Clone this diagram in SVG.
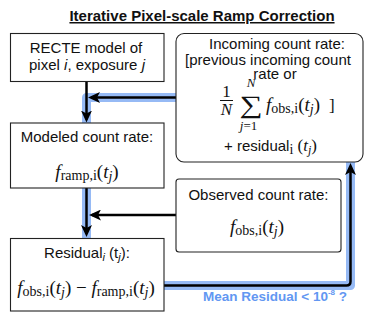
<svg xmlns="http://www.w3.org/2000/svg" width="374" height="316" viewBox="0 0 374 316">
<style>
.box{fill:#fff;stroke:#222;stroke-width:1.1}
.s{font-family:"Liberation Sans",Arial,sans-serif;font-size:15px;fill:#111}
.m{font-family:"Liberation Serif","Times New Roman",serif;font-size:19px;fill:#111}
.mi{font-style:italic}
.sub{font-size:14px}
.band{fill:none;stroke:#96baf5;stroke-width:9;stroke-linejoin:round}
.ln{fill:none;stroke:#000;stroke-width:2.5}
</style>
<defs>
<marker id="ah" markerUnits="userSpaceOnUse" markerWidth="12" markerHeight="11" refX="9" refY="5.5" orient="auto">
<path d="M0,0 L12,5.5 L0,11 L3,5.5 Z" fill="#000"/>
</marker>
</defs>
<rect width="374" height="316" fill="#fff"/>
<text x="202" y="21" text-anchor="middle" class="s" style="font-weight:bold;text-decoration:underline">Iterative Pixel-scale Ramp Correction</text>

<g id="connectors">
<path class="band" d="M176,97.5 H86.5 V123"/>
<path class="band" d="M86.5,188 V238"/>
<path class="band" d="M164,285.5 H350.5 V162"/>
<path class="ln" d="M86.5,81.5 V119.5" marker-end="url(#ah)"/>
<path class="ln" d="M176,97.5 H91" marker-end="url(#ah)"/>
<path class="ln" d="M86.5,188 V234" marker-end="url(#ah)"/>
<path class="ln" d="M176,215 H92" marker-end="url(#ah)"/>
<path class="ln" d="M164,285.5 H346.5 Q350.5,285.5 350.5,281.5 V166" marker-end="url(#ah)"/>
</g>

<g id="recte">
<rect class="box" x="10.5" y="33.5" width="153.5" height="48"/>
<text x="86" y="53" text-anchor="middle" class="s">RECTE model of</text>
<text x="87" y="69.5" text-anchor="middle" class="s">pixel <tspan font-style="italic">i</tspan>, exposure <tspan font-style="italic">j</tspan></text>
</g>

<g id="incoming">
<rect class="box" x="176" y="33.5" width="187" height="128.5" rx="8"/>
<text x="277" y="49" text-anchor="middle" class="s">Incoming count rate:</text>
<text x="268" y="64.5" text-anchor="middle" class="s">[previous incoming count</text>
<text x="275" y="79" text-anchor="middle" class="s">rate or</text>
<text x="226.5" y="97" text-anchor="middle" class="m" style="font-size:17px">1</text>
<line x1="220" y1="100.5" x2="233" y2="100.5" stroke="#111" stroke-width="1"/>
<text x="226.5" y="115" text-anchor="middle" class="m mi" style="font-size:17px">N</text>
<text x="251" y="87" text-anchor="middle" class="m mi" style="font-size:13px">N</text>
<text x="0" y="0" transform="translate(251,113) scale(1.3,1)" text-anchor="middle" class="m" style="font-size:25px">∑</text>
<text x="248.5" y="130" text-anchor="middle" class="m" style="font-size:13px"><tspan font-style="italic">j</tspan>=1</text>
<text x="266" y="111" class="m"><tspan class="mi">f</tspan><tspan class="sub" dy="2">obs,i</tspan><tspan dy="-2">(</tspan><tspan class="mi">t</tspan><tspan class="sub mi" dy="3">j</tspan><tspan dy="-3">)</tspan></text>
<text x="329" y="111" class="m" style="font-size:17px">]</text>
<text x="224" y="151" class="s">+ residual<tspan class="m sub" dy="3">i</tspan><tspan class="m" dy="-3" style="font-size:17px"> (<tspan class="mi">t</tspan><tspan class="mi" dy="3" style="font-size:12px">j</tspan><tspan dy="-3">)</tspan></tspan></text>
</g>

<g id="modeled">
<rect class="box" x="10.5" y="123" width="153.5" height="65"/>
<text x="87" y="142" text-anchor="middle" class="s">Modeled count rate:</text>
<text x="87" y="178" text-anchor="middle" class="m"><tspan class="mi">f</tspan><tspan class="sub" dy="2">ramp,i</tspan><tspan dy="-2">(</tspan><tspan class="mi">t</tspan><tspan class="sub mi" dy="3">j</tspan><tspan dy="-3">)</tspan></text>
</g>

<g id="observed">
<rect class="box" x="176" y="179" width="165" height="73" rx="3"/>
<text x="258.5" y="199.5" text-anchor="middle" class="s">Observed count rate:</text>
<text x="257" y="233" text-anchor="middle" class="m"><tspan class="mi">f</tspan><tspan class="sub" dy="2">obs,i</tspan><tspan dy="-2">(</tspan><tspan class="mi">t</tspan><tspan class="sub mi" dy="3">j</tspan><tspan dy="-3">)</tspan></text>
</g>

<g id="residual">
<rect class="box" x="10.5" y="238.5" width="153.5" height="72.5"/>
<text x="87" y="258" text-anchor="middle" class="s">Residual<tspan font-style="italic" font-size="11" dy="3">i</tspan><tspan dy="-3"> (t</tspan><tspan font-style="italic" font-size="11" dy="3">j</tspan><tspan dy="-3">):</tspan></text>
<text x="86" y="294" text-anchor="middle" class="m"><tspan class="mi">f</tspan><tspan class="sub" dy="2">obs,i</tspan><tspan dy="-2">(</tspan><tspan class="mi">t</tspan><tspan class="sub mi" dy="3">j</tspan><tspan dy="-3">) − </tspan><tspan class="mi">f</tspan><tspan class="sub" dy="2">ramp,i</tspan><tspan dy="-2">(</tspan><tspan class="mi">t</tspan><tspan class="sub mi" dy="3">j</tspan><tspan dy="-3">)</tspan></text>
</g>

<text x="275" y="300.5" text-anchor="middle" style="font-family:'Liberation Sans',Arial,sans-serif;font-size:13.5px;font-weight:bold;fill:#6297f2">Mean Residual &lt; 10<tspan font-size="8" dy="-6">-8</tspan><tspan dy="6"> ?</tspan></text>
</svg>
